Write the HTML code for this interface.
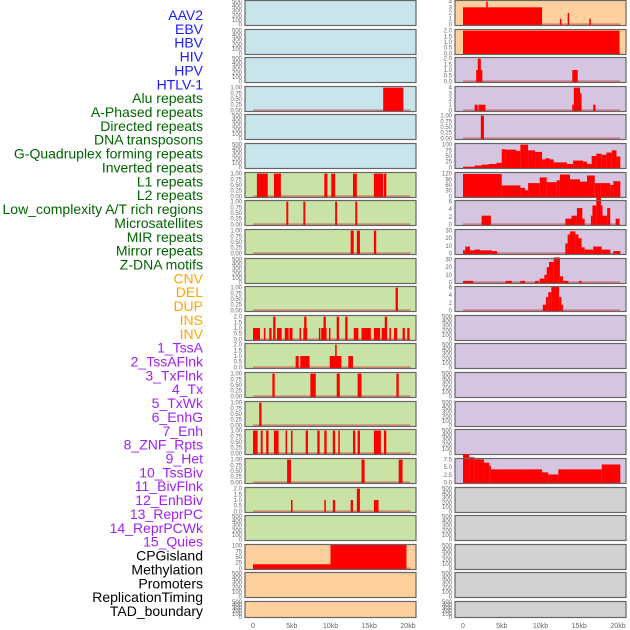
<!DOCTYPE html>
<html><head><meta charset="utf-8">
<style>
body{margin:0;background:#fff;width:630px;height:630px;overflow:hidden}
svg{display:block}
</style></head>
<body>
<svg id="chart" width="630" height="630" xmlns="http://www.w3.org/2000/svg" font-family="Liberation Sans, sans-serif"></svg>
<script>
const trackLabels = ["AAV2","EBV","HBV","HIV","HPV","HTLV-1","Alu repeats","A-Phased repeats","Directed repeats","DNA transposons","G-Quadruplex forming repeats","Inverted repeats","L1 repeats","L2 repeats","Low_complexity A/T rich regions","Microsatellites","MIR repeats","Mirror repeats","Z-DNA motifs","CNV","DEL","DUP","INS","INV","1_TssA","2_TssAFlnk","3_TxFlnk","4_Tx","5_TxWk","6_EnhG","7_Enh","8_ZNF_Rpts","9_Het","10_TssBiv","11_BivFlnk","12_EnhBiv","13_ReprPC","14_ReprPCWk","15_Quies","CPGisland","Methylation","Promoters","ReplicationTiming","TAD_boundary"];
const labelGroups = [6,13,5,15,5];
const xTickValues = [0,5,10,15,20];
const xTickLabels = ["0","5kb","10kb","15kb","20kb"];

const T500=[0,100,200,300,400,500], T1=[0,0.25,0.5,0.75,1.0], T2=[0,0.5,1.0,1.5,2.0], T4=[0,1,2,3,4];
// left column ticks & bars (bars: [startKb, endKb, value])
const leftTicks = [T500,T500,T500,T1,T500,T500,T1,T1,T1,T500,T1,T2,T2,T1,T1,T1,T1,T2,T500,[0,25,50,75,100],T500,T500];
const leftBars = [
 [],[],[],
 [[16.8,19.4,1]],
 [],[],
 [[0.5,1.9,1],[2.7,3.6,1],[9.2,9.6,1],[10.1,10.6,1],[12.9,13.4,1],[15.6,16.8,1],[16.9,17.2,1]],
 [[4.3,4.55,1],[6.5,6.75,1],[10.6,10.85,1],[13.2,13.45,1]],
 [[12.6,13.0,1],[13.4,13.8,1],[15.6,15.9,1]],
 [],
 [[18.4,18.7,1]],
 [[0,0.9,1],[1.4,1.6,1],[2.1,2.4,1],[2.6,2.9,2],[3.1,3.7,1],[4.1,4.6,1],[4.7,5.1,1],[6.0,6.2,1],[6.5,7.0,1],[6.6,6.9,2],[8.5,8.6,1],[8.8,9.5,1],[9.1,9.4,2],[9.8,9.9,1],[10.8,11.1,2],[11.9,12.2,2],[13.0,13.6,1],[14.0,15.2,1],[15.6,16.4,1],[16.6,17.3,1],[17.0,17.3,2],[17.6,17.8,1],[18.2,18.6,1],[19.3,19.6,1],[19.9,20.2,1]],
 [[5.5,5.9,1],[6.1,7.3,1],[9.9,11.4,1],[10.6,10.8,2],[12.3,12.9,1]],
 [[2.5,2.8,1],[7.4,8.1,1],[10.8,11.2,1],[13.5,14.0,1],[18.5,18.8,1]],
 [[0.8,1.1,1]],
 [[0,0.6,1],[1.0,1.25,1],[1.7,2.0,1],[2.7,3.3,1],[4.2,4.4,1],[4.9,5.1,1],[6.8,7.1,1],[8.3,8.6,1],[9.2,9.5,1],[10.3,10.6,1],[11.0,11.2,1],[12.9,13.2,1],[13.5,13.8,1],[15.6,16.5,1],[16.9,17.2,1]],
 [[4.4,4.9,1],[14.0,14.4,1],[18.8,19.3,1]],
 [[4.9,5.1,1],[9.2,9.4,1],[10.3,10.6,1],[12.6,12.9,1],[13.4,13.8,2],[15.6,16.2,1]],
 [],
 [[0,10,18],[10,19.8,104]],
 [],[]
];
// right column ticks & bars
const rightTicks = [T4,T2,T2,T4,T1,[0,25,50,75,100],[0,30,60,90,120],[0,2,4,6],[0,10,20,30],[0,10,20,30],[0,2,4,6],T500,T500,T500,T500,T500,[0,2.5,5.0,7.5],T500,T500,T500,T500,T500];
const rightBars = [
 [[0,10.2,3],[3.0,3.2,4],[12.5,12.7,1],[13.5,13.7,2],[16.3,16.5,1]],
 [[0,20.2,2]],
 [[1.7,2.5,1],[1.9,2.3,2],[14.1,14.8,1]],
 [[1.5,1.9,1],[2.0,2.9,1],[14.1,14.4,1],[14.3,15.1,4],[15.1,15.3,3],[16.8,17.1,1]],
 [[2.3,2.7,1]],
 [[0,1.5,2],[1.5,2.4,8],[2.4,3.3,12],[3.3,4.3,15],[4.3,5.0,20],[5.0,5.5,80],[5.5,6.9,78],[6.9,7.4,72],[7.4,8.4,100],[8.4,9.3,75],[9.3,10.2,68],[10.2,10.6,35],[10.6,11.2,40],[11.2,11.7,35],[11.7,13.4,22],[13.4,14.2,15],[14.2,15.5,30],[15.5,16.0,25],[16.0,16.6,15],[16.6,17.2,50],[17.2,17.9,60],[17.9,18.5,55],[18.5,19.2,65],[19.2,19.8,75],[19.8,20.3,48]],
 [[0,5.0,118],[5.0,7.4,58],[7.4,8.0,45],[8.0,8.4,32],[8.4,9.9,70],[9.9,10.8,100],[10.8,12.1,75],[12.1,12.5,85],[12.5,13.8,115],[13.8,15.1,90],[15.1,16.0,78],[16.0,17.0,110],[17.0,17.7,70],[17.7,19.0,70],[19.0,19.4,60],[19.4,20.3,80]],
 [[2.4,3.6,2.3],[13.2,14.0,1.5],[14.0,14.7,2.3],[14.7,15.4,4.3],[15.4,15.7,1.5],[16.5,16.7,2.3],[16.7,17.2,5],[17.2,17.8,7.5],[17.8,18.0,5],[18.0,18.6,2.3],[18.6,19.0,4.3],[19.7,20.2,1.5]],
 [[0,0.3,4],[0.3,0.9,9],[0.9,1.5,4],[1.5,2.2,5],[2.2,3.7,4],[3.7,4.4,3],[13.2,13.5,13],[13.5,13.8,25],[13.8,14.5,29],[14.5,14.9,25],[14.9,15.3,20],[15.3,15.7,8],[15.7,16.8,5],[16.8,17.9,9],[17.9,19.0,5],[19.4,20.3,3]],
 [[0,1.3,2],[5.5,6.3,2],[7.4,8.0,2],[9.3,9.8,2],[9.9,10.5,5],[10.5,10.8,10],[10.8,11.1,20],[11.1,11.7,27],[11.7,12.5,33],[12.5,12.9,8],[12.9,13.6,2],[15.0,15.3,2]],
 [[10.3,10.7,1.5],[10.7,11.0,3.5],[11.0,11.4,4.8],[11.4,12.4,6.2],[12.4,12.7,3.5],[12.7,12.9,1.5]],
 [],[],[],[],[],
 [[0,0.8,9.3],[0.8,1.5,8.3],[1.5,2.7,7.6],[2.7,3.4,6.5],[3.4,3.6,5.5],[3.6,10.2,4.3],[10.2,11.0,3.3],[11.0,12.3,2.6],[12.3,17.9,4.3],[17.9,20.3,5.9]],
 [],[],[],[],[]
];
const leftBg = ["#c9e4eb","#c9e4eb","#c9e4eb","#c9e4eb","#c9e4eb","#c9e4eb","#c9e2a5","#c9e2a5","#c9e2a5","#c9e2a5","#c9e2a5","#c9e2a5","#c9e2a5","#c9e2a5","#c9e2a5","#c9e2a5","#c9e2a5","#c9e2a5","#c9e2a5","#ffd09d","#ffd09d","#ffd09d"];
const rightBg = ["#ffd09d","#ffd09d","#d6c5e1","#d6c5e1","#d6c5e1","#d6c5e1","#d6c5e1","#d6c5e1","#d6c5e1","#d6c5e1","#d6c5e1","#d6c5e1","#d6c5e1","#d6c5e1","#d6c5e1","#d6c5e1","#d6c5e1","#d2d2d2","#d2d2d2","#d2d2d2","#d2d2d2","#d2d2d2"];

const NS="http://www.w3.org/2000/svg";
const svg=document.getElementById('chart');
function mk(tag,attrs,parent){const e=document.createElementNS(NS,tag);for(const k in attrs)e.setAttribute(k,attrs[k]);(parent||svg).appendChild(e);return e;}

// labels
const groupColors=["#1a1aff","#006400","#ffa500","#a020f0","#000000"];
let gi=0,gc=0;
trackLabels.forEach((t,i)=>{
  while(gc>=labelGroups[gi]){gi++;gc=0;}
  gc++;
  const e=mk('text',{x:203,y:15+i*13.86+5,'text-anchor':'end','font-size':14,fill:groupColors[gi]});
  
  
  e.textContent=t;
});

const rowTops=[];for(let r=0;r<22;r++)rowTops.push(Math.round(r*28.62));
function xScale(col,kb){return (col?463:253)+kb*7.75;}

function drawPanel(col,r,ticks,bars,bg){
  const top=rowTops[r]+0.5, h=(r===21?16:25);
  const x0=col?455:245, w=171;
  const g=mk('g',{});
  
  
  mk('rect',{x:x0,y:top,width:w,height:h,fill:bg},g);
  const tmax=ticks[ticks.length-1];
  const lo=-0.05*tmax, hi=1.05*tmax;
  const yS=v=>top+h-(v-lo)/(hi-lo)*h;
  if(bars.length){
    mk('rect',{x:xScale(col,0),y:yS(0)-1,width:20.3*7.75,height:1.6,fill:'rgba(200,60,60,0.55)'},g);
  }
  bars.forEach(b=>{
    const y=yS(b[2]);
    const rc=mk('rect',{x:xScale(col,b[0]),y:y,width:Math.max(1.5,(b[1]-b[0])*7.75),height:yS(0)-y+1,fill:'#ff0000'},g);
    
    
  });
  mk('rect',{x:x0,y:top,width:w,height:h,fill:'none',stroke:'#666',"stroke-width":1.2},g);
  ticks.forEach(t=>{
    const tx=mk('text',{x:x0-3,y:yS(t)+2,'text-anchor':'end','font-size':6,fill:'#666'},g);
    
    
    tx.textContent=(tmax===1?t.toFixed(2):(tmax===2||tmax===7.5?t.toFixed(1):String(t)));
  });
}
for(let r=0;r<22;r++){drawPanel(0,r,leftTicks[r],leftBars[r],leftBg[r]);drawPanel(1,r,rightTicks[r],rightBars[r],rightBg[r]);}
[0,1].forEach(col=>{
  xTickValues.forEach((v,i)=>{
    const t=mk('text',{x:xScale(col,v),y:628,'text-anchor':'middle','font-size':7,fill:'#666'});
    
    
    t.textContent=xTickLabels[i];
  });
});
</script>
</body></html>
